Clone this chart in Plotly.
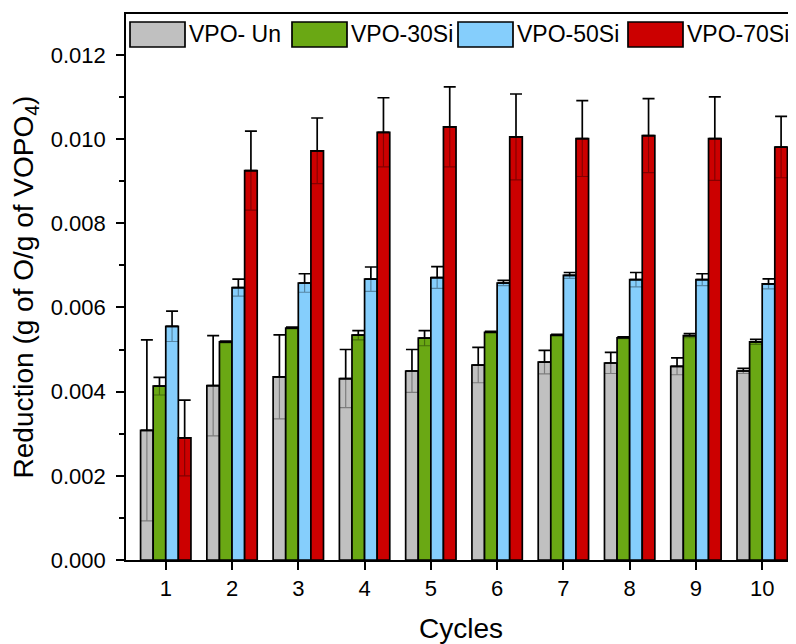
import plotly.graph_objects as go

cycles = [1, 2, 3, 4, 5, 6, 7, 8, 9, 10]
series_names = ["VPO- Un", "VPO-30Si", "VPO-50Si", "VPO-70Si"]

vpo_un = [0.00308, 0.00414, 0.00435, 0.00431, 0.00449, 0.00463, 0.00470, 0.00468, 0.00460, 0.00449]
vpo_un_err = [0.00215, 0.00119, 0.00100, 0.00069, 0.00051, 0.00042, 0.00028, 0.00025, 0.00020, 0.00006]

vpo_30 = [0.00413, 0.00518, 0.00551, 0.00534, 0.00527, 0.00541, 0.00534, 0.00528, 0.00533, 0.00518]
vpo_30_err = [0.00021, 0.00002, 0.00002, 0.00011, 0.00018, 0.00002, 0.00002, 0.00002, 0.00005, 0.00006]

vpo_50 = [0.00555, 0.00647, 0.00658, 0.00667, 0.00671, 0.00658, 0.00676, 0.00666, 0.00666, 0.00656]
vpo_50_err = [0.00036, 0.00020, 0.00022, 0.00029, 0.00026, 0.00006, 0.00007, 0.00017, 0.00014, 0.00012]

vpo_70 = [0.00290, 0.00925, 0.00972, 0.01016, 0.01029, 0.01005, 0.01001, 0.01008, 0.01001, 0.00981]
vpo_70_err = [0.00090, 0.00094, 0.00078, 0.00082, 0.00095, 0.00102, 0.00090, 0.00088, 0.00099, 0.00073]

values = [vpo_un, vpo_30, vpo_50, vpo_70]
errors = [vpo_un_err, vpo_30_err, vpo_50_err, vpo_70_err]
colors = ["#C0C0C0", "#6AA814", "#85CEFC", "#CC0000"]

# The page body has an 8px margin, so the figure is sized to fit the window.
W, H = 788, 636
ML, MR, MT, MB = 118, 0, 6, 84
plot_w = W - ML - MR
plot_h = H - MT - MB

fig = go.Figure()
# main bars with upper error bars
for i, (name, vals, errs, col) in enumerate(zip(series_names, values, errors, colors)):
    fig.add_trace(go.Bar(
        x=cycles, y=vals, name=name, showlegend=False, offsetgroup=str(i),
        marker=dict(color=col, line=dict(color="black", width=1.7)),
        error_y=dict(type="data", array=errs, arrayminus=[0] * len(errs),
                     symmetric=False, color="black", thickness=1.7, width=6),
    ))
# faint lower error whiskers seen through the bars
for i, (name, vals, errs) in enumerate(zip(series_names, values, errors)):
    fig.add_trace(go.Bar(
        x=cycles, y=vals, name=name + " (lower error)", showlegend=False, offsetgroup=str(i),
        marker=dict(color="rgba(0,0,0,0)", line=dict(width=0)), hoverinfo="skip",
        error_y=dict(type="data", array=[0] * len(errs), arrayminus=errs,
                     symmetric=False, color="rgba(0,0,0,0.35)", thickness=1.2, width=6),
    ))

# Legend drawn as boxes + labels along the top of the plot area
legend_box_left_px = [122, 284, 450, 620]   # layout positions (pixels from figure left)
box_w_px, box_top_px, box_bot_px = 55, 14, 39
shapes = []
annotations = []
for name, col, bx in zip(series_names, colors, legend_box_left_px):
    x0 = (bx - ML) / plot_w
    x1 = (bx + box_w_px - ML) / plot_w
    y1 = (H - MB - box_top_px) / plot_h
    y0 = (H - MB - box_bot_px) / plot_h
    shapes.append(dict(type="rect", xref="paper", yref="paper", x0=x0, x1=x1, y0=y0, y1=y1,
                       fillcolor=col, line=dict(color="black", width=1.7), layer="above"))
    annotations.append(dict(text=name, xref="paper", yref="paper",
                            x=(bx + box_w_px + 2 - ML) / plot_w, y=(y0 + y1) / 2,
                            xanchor="left", yanchor="middle", showarrow=False,
                            font=dict(size=23, color="black")))

font_family = "Liberation Sans, Arial, sans-serif"
fig.update_layout(
    width=W, height=H,
    barmode="group", bargap=0.24, bargroupgap=0.0,
    plot_bgcolor="white", paper_bgcolor="white",
    margin=dict(l=ML, r=MR, t=MT, b=MB, autoexpand=False),
    font=dict(family=font_family, size=22, color="black"),
    shapes=shapes, annotations=annotations,
    xaxis=dict(
        range=[0.40, 10.51], tickmode="array", tickvals=cycles,
        ticks="outside", ticklen=8, tickwidth=1.7, tickcolor="black",
        showline=True, linecolor="black", linewidth=1.7, mirror=True,
        showgrid=False, zeroline=False, automargin=False,
        title=dict(text="Cycles", font=dict(size=28), standoff=19),
        tickfont=dict(size=22),
    ),
    yaxis=dict(
        range=[0, 0.01297], tickmode="linear", tick0=0, dtick=0.002,
        tickformat=".3f",
        ticks="outside", ticklen=8, tickwidth=1.7, tickcolor="black",
        ticklabelstandoff=6,
        minor=dict(dtick=0.001, ticks="outside", ticklen=5, tickwidth=1.7, tickcolor="black"),
        showline=True, linecolor="black", linewidth=1.7, mirror=False,
        showgrid=False, zeroline=False, automargin=False,
        title=dict(text="Reduction (g of O/g of VOPO<sub>4</sub>)", font=dict(size=28), standoff=12),
        tickfont=dict(size=22),
    ),
)

fig.write_html("out.html")
